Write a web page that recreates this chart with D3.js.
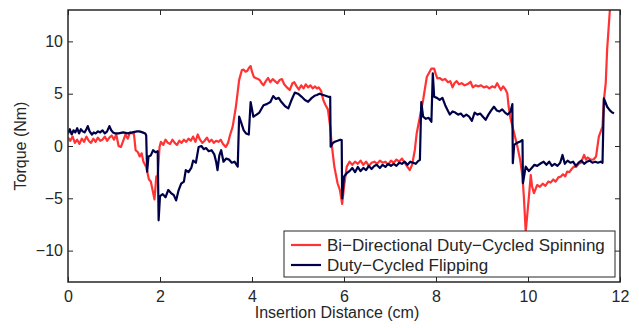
<!DOCTYPE html>
<html><head><meta charset="utf-8">
<script src="https://cdn.jsdelivr.net/npm/d3@7"></script>
<style>body{margin:0;background:#fff}svg{display:block}text{font-family:"Liberation Sans",Arial,Helvetica,sans-serif;fill:#262626}</style>
</head><body><div id="chart"></div>
<script>
const xTicks = [0,2,4,6,8,10,12];
const yTicks = [-10,-5,0,5,10];
const seriesNames = ["Bi\u2212Directional Duty\u2212Cycled Spinning","Duty\u2212Cycled Flipping"];
const spinX = [0,0.05,0.1,0.15,0.2,0.25,0.3,0.35,0.4,0.45,0.5,0.55,0.6,0.65,0.7,0.75,0.8,0.85,0.9,0.95,1.0,1.05,1.1,1.15,1.2,1.25,1.3,1.35,1.4,1.43,1.47,1.52,1.56,1.6,1.64,1.7,1.76,1.8,1.88,1.92,1.95,1.99,2.02,2.07,2.12,2.17,2.22,2.27,2.32,2.37,2.42,2.47,2.52,2.57,2.62,2.67,2.72,2.77,2.82,2.87,2.92,2.97,3.02,3.07,3.12,3.17,3.22,3.27,3.32,3.37,3.43,3.48,3.52,3.58,3.65,3.72,3.78,3.82,3.86,3.9,3.94,3.97,4.0,4.04,4.08,4.13,4.17,4.21,4.25,4.3,4.35,4.4,4.45,4.5,4.55,4.6,4.65,4.7,4.76,4.82,4.88,4.92,4.97,5.02,5.07,5.12,5.17,5.22,5.27,5.32,5.37,5.41,5.45,5.5,5.55,5.6,5.65,5.7,5.73,5.79,5.86,5.91,5.96,6.01,6.06,6.12,6.18,6.24,6.3,6.36,6.42,6.48,6.54,6.6,6.66,6.72,6.78,6.84,6.9,6.96,7.02,7.08,7.14,7.2,7.26,7.32,7.38,7.43,7.48,7.54,7.58,7.65,7.72,7.8,7.9,7.96,8.0,8.03,8.08,8.14,8.2,8.26,8.31,8.36,8.4,8.45,8.5,8.56,8.62,8.68,8.75,8.8,8.86,8.92,8.98,9.04,9.1,9.16,9.22,9.28,9.33,9.38,9.41,9.46,9.51,9.55,9.58,9.62,9.7,9.77,9.83,9.88,9.91,9.95,10.02,10.06,10.09,10.13,10.2,10.26,10.32,10.38,10.44,10.49,10.55,10.6,10.66,10.71,10.76,10.81,10.85,10.9,10.95,11.0,11.05,11.1,11.15,11.22,11.26,11.3,11.36,11.43,11.48,11.54,11.62,11.65,11.69,11.72,11.78,11.82];
const spinY = [0.8,0.5,0.9,0.3,0.6,0.2,0.7,0.4,0.9,0.5,0.3,0.7,0.4,0.8,0.5,0.6,0.9,0.5,0.8,1.0,0.6,1.1,0.0,-0.1,0.5,1.1,0.7,1.3,1.2,1.3,-0.4,-0.6,-1.0,-0.7,-1.5,-2.0,-3.2,-3.4,-5.1,-2.9,-2.9,-0.1,0.4,0.1,0.6,0.3,0.2,0.6,0.3,0.1,0.5,0.3,0.6,0.4,0.7,0.5,0.9,0.4,1.1,0.6,0.3,0.5,0.8,0.4,0.6,0.3,0.5,0.4,0.6,0.2,-0.1,0.3,1.0,1.85,3.75,6.3,7.26,7.3,7.1,7.2,7.5,7.64,7.1,6.6,6.5,6.4,6.3,6.0,5.8,6.2,6.5,6.1,6.4,6.2,6.0,6.3,6.4,5.9,5.6,5.35,6.0,6.1,5.7,5.4,5.8,5.5,5.9,5.6,5.8,5.5,5.7,5.5,5.6,5.3,4.4,3.9,3.5,1.84,0.25,-1.97,-3.56,-4.2,-5.54,-3.56,-1.97,-1.5,-1.8,-1.5,-1.7,-1.4,-1.8,-1.5,-1.9,-1.6,-1.5,-1.7,-1.4,-1.6,-1.5,-1.8,-1.4,-1.6,-1.3,-1.5,-1.2,-1.6,-2.0,-2.3,-1.8,-0.38,1.2,2.8,4.4,6.6,7.4,7.4,6.8,6.47,6.5,6.3,6.4,6.1,6.2,5.6,6.0,6.2,5.9,6.0,5.8,5.9,6.14,5.6,5.8,5.7,5.8,5.6,5.7,5.5,5.7,5.6,6.0,5.6,5.35,5.7,5.4,5.03,3.75,2.64,1.2,-0.06,-1.34,-2.93,-4.84,-8.2,-4.84,-2.77,-3.9,-4.5,-3.73,-3.9,-3.6,-3.8,-3.4,-3.5,-3.2,-3.4,-3.0,-2.93,-2.7,-2.9,-2.45,-2.5,-2.2,-1.97,-2.0,-1.7,-1.6,-0.86,-1.3,-1.1,-1.3,-1.27,-1.0,0.89,1.85,4.4,6.0,9.2,13.0,15.0];
const flipX = [0,0.04,0.08,0.12,0.16,0.2,0.24,0.28,0.32,0.36,0.4,0.43,0.47,0.52,0.56,0.6,0.65,0.7,0.75,0.8,0.85,0.9,0.94,0.98,1.03,1.1,1.2,1.3,1.4,1.5,1.55,1.62,1.68,1.7,1.72,1.75,1.8,1.85,1.9,1.95,1.97,2.0,2.06,2.12,2.18,2.24,2.3,2.35,2.4,2.46,2.52,2.56,2.62,2.68,2.72,2.78,2.84,2.9,2.95,3.0,3.06,3.12,3.18,3.22,3.25,3.29,3.33,3.38,3.44,3.5,3.56,3.62,3.69,3.72,3.76,3.82,3.87,3.93,3.97,4.03,4.1,4.16,4.25,4.32,4.4,4.46,4.52,4.58,4.64,4.72,4.79,4.85,4.93,5.0,5.08,5.15,5.22,5.3,5.36,5.41,5.47,5.53,5.6,5.66,5.7,5.71,5.76,5.8,5.86,5.92,5.95,5.96,6.0,6.06,6.12,6.18,6.24,6.3,6.36,6.42,6.48,6.54,6.6,6.66,6.71,6.78,6.84,6.9,6.96,7.02,7.08,7.14,7.2,7.26,7.32,7.38,7.44,7.5,7.56,7.62,7.65,7.68,7.72,7.78,7.84,7.9,7.93,7.96,8.02,8.08,8.14,8.2,8.25,8.3,8.36,8.42,8.48,8.54,8.6,8.66,8.72,8.78,8.84,8.9,8.96,9.02,9.08,9.14,9.2,9.26,9.32,9.38,9.44,9.5,9.56,9.62,9.66,9.67,9.7,9.76,9.82,9.88,9.89,9.95,10.02,10.08,10.14,10.2,10.28,10.34,10.4,10.46,10.52,10.58,10.64,10.7,10.75,10.8,10.86,10.92,10.98,11.04,11.1,11.16,11.22,11.28,11.34,11.4,11.46,11.52,11.58,11.62,11.65,11.72,11.78,11.83,11.87];
const flipY = [1.2,1.6,1.1,1.5,1.3,1.7,1.2,1.6,1.4,1.3,1.6,1.9,1.4,1.1,1.3,1.2,1.4,1.3,1.5,1.2,1.4,1.9,1.5,1.3,1.2,1.2,1.3,1.2,1.3,1.4,1.4,1.3,1.2,1.0,-2.45,-1.0,-0.9,-0.4,-0.6,-0.5,-7.1,-4.8,-4.6,-4.9,-4.2,-4.5,-4.7,-5.2,-4.3,-3.6,-3.4,-2.3,-2.5,-2.1,-1.4,-1.6,-0.1,0.0,-0.3,-0.2,-0.5,-0.4,-0.8,-1.5,-2.3,-0.9,-0.4,-1.5,-1.2,-1.3,-1.6,-1.5,-1.97,2.8,2.3,1.5,1.2,1.1,4.2,2.8,3.0,3.2,3.9,4.0,4.2,4.77,4.5,4.6,4.2,3.8,3.6,4.3,5.1,5.0,4.7,4.4,4.23,4.6,4.8,4.87,5.0,4.9,4.8,4.7,4.7,-0.06,0.3,0.41,0.5,0.6,0.57,-5.0,-2.93,-2.6,-2.4,-2.1,-2.5,-2.0,-2.4,-2.1,-2.3,-1.9,-2.2,-1.9,-1.8,-2.1,-1.8,-2.0,-1.7,-1.9,-1.7,-1.9,-1.6,-1.7,-1.5,-1.8,-1.5,-1.6,-1.7,-1.4,-1.34,4.2,2.8,2.6,2.7,2.32,6.94,4.7,4.6,4.4,4.6,3.9,3.44,3.0,3.3,3.2,3.0,3.1,2.8,3.0,2.8,2.4,3.2,3.0,3.1,2.8,2.5,3.0,3.4,3.75,3.4,3.3,3.5,3.2,3.0,3.3,4.0,-1.65,0.1,0.3,0.4,0.57,-3.56,-1.97,-2.4,-2.1,-1.8,-1.9,-1.65,-1.5,-1.8,-1.5,-1.9,-1.7,-1.9,-1.6,-0.86,-1.7,-1.4,-1.6,-1.5,-1.9,-1.6,-1.4,-1.7,-1.5,-1.4,-1.6,-1.5,-1.6,-1.5,-1.6,4.55,3.75,3.4,3.2,3.12];

const W = 639, H = 328;
const m = {left: 68, right: 19, top: 10, bottom: 46};
const svg = d3.select("#chart").append("svg").attr("width", W).attr("height", H);
const x = d3.scaleLinear().domain([0, 12]).range([m.left, W - m.right]);
const y = d3.scaleLinear().domain([-13, 13]).range([H - m.bottom, m.top]);
const axisColor = "#262626";

svg.append("defs").append("clipPath").attr("id", "clip").append("rect")
  .attr("x", m.left).attr("y", m.top).attr("width", W - m.left - m.right).attr("height", H - m.top - m.bottom);

const colors = ["#ff3333", "#000048"];
const line = d3.line().x(d => x(d[0])).y(d => y(d[1]));
const spin = spinX.map((v, i) => [v, spinY[i]]);
const flip = flipX.map((v, i) => [v, flipY[i]]);
const g = svg.append("g").attr("clip-path", "url(#clip)");
g.append("path").datum(spin).attr("d", line).attr("fill", "none").attr("stroke", colors[0]).attr("stroke-width", 2.2).attr("stroke-linejoin", "round");
g.append("path").datum(flip).attr("d", line).attr("fill", "none").attr("stroke", colors[1]).attr("stroke-width", 2.2).attr("stroke-linejoin", "round");

function styleAxis(sel, labels) {
  sel.select(".domain").remove();
  sel.selectAll(".tick line").attr("stroke", axisColor).attr("stroke-width", 1);
  sel.selectAll(".tick text").style("display", labels ? null : "none").attr("font-size", 16).attr("fill", axisColor);
}
const fmt = d => d < 0 ? "\u2212" + Math.abs(d) : String(d);
svg.append("g").attr("transform", `translate(0,${H - m.bottom})`)
  .call(d3.axisBottom(x).tickValues(xTicks).tickFormat(fmt).tickSizeInner(-5).tickSizeOuter(0).tickPadding(9))
  .call(s => styleAxis(s, true));
svg.append("g").attr("transform", `translate(0,${m.top})`)
  .call(d3.axisTop(x).tickValues(xTicks).tickSizeInner(-5).tickSizeOuter(0))
  .call(s => styleAxis(s, false));
svg.append("g").attr("transform", `translate(${m.left},0)`)
  .call(d3.axisLeft(y).tickValues(yTicks).tickFormat(fmt).tickSizeInner(-5).tickSizeOuter(0).tickPadding(5))
  .call(s => styleAxis(s, true));
svg.append("g").attr("transform", `translate(${W - m.right},0)`)
  .call(d3.axisRight(y).tickValues(yTicks).tickSizeInner(-5).tickSizeOuter(0))
  .call(s => styleAxis(s, false));

svg.append("rect").attr("x", m.left).attr("y", m.top).attr("width", W - m.left - m.right).attr("height", H - m.top - m.bottom)
  .attr("fill", "none").attr("stroke", axisColor).attr("stroke-width", 1.5);

svg.append("text").attr("x", (m.left + W - m.right) / 2 - 7).attr("y", 318).attr("text-anchor", "middle").attr("font-size", 16).text("Insertion Distance (cm)");
svg.append("text").attr("transform", `translate(26,${(m.top + H - m.bottom) / 2}) rotate(-90)`).attr("text-anchor", "middle").attr("font-size", 16).text("Torque (Nm)");

const lg = svg.append("g");
lg.append("rect").attr("x", 284).attr("y", 231).attr("width", 331).attr("height", 46).attr("fill", "#fff").attr("stroke", axisColor).attr("stroke-width", 1);
seriesNames.forEach((nm, i) => {
  const cy = 245 + i * 20;
  lg.append("line").attr("x1", 291).attr("x2", 321).attr("y1", cy).attr("y2", cy).attr("stroke", colors[i]).attr("stroke-width", 2.2);
  lg.append("text").attr("x", 327).attr("y", cy + 6).attr("font-size", 17).text(nm);
});
</script></body></html>
